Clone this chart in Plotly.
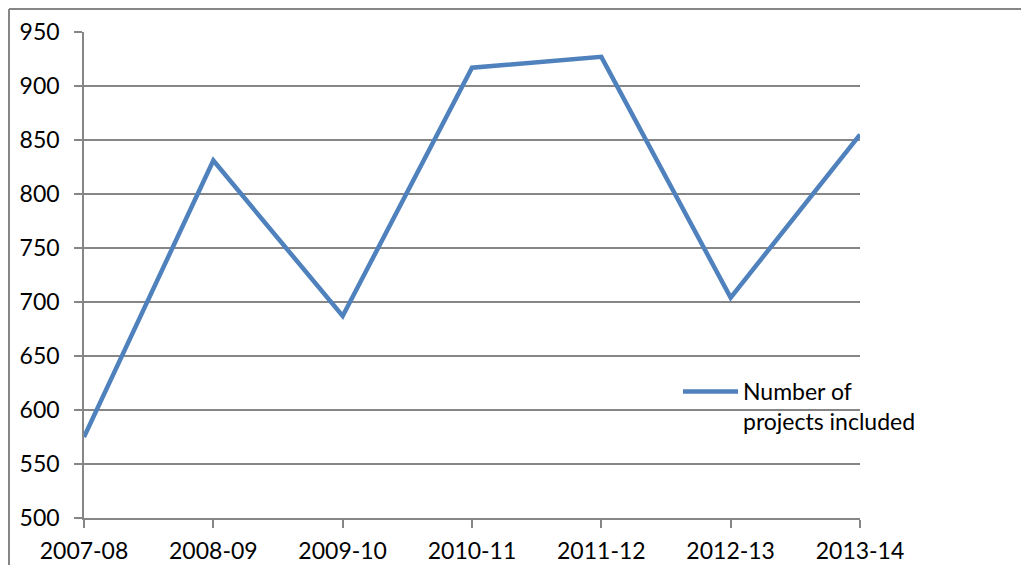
import plotly.graph_objects as go

years = ["2007-08", "2008-09", "2009-10", "2010-11", "2011-12", "2012-13", "2013-14"]
projects = [575, 831, 687, 917, 927, 704, 855]
series_name = "Number of<br>projects included"
y_ticks = [500, 550, 600, 650, 700, 750, 800, 850, 900, 950]

W, H = 1029, 565
# page body has an 8px margin, so figure coords = screen coords - 8
L, R, T, B = 76, 852, 24, 510

fig = go.Figure()
fig.add_trace(go.Scatter(
    x=years, y=projects, mode="lines", name=series_name,
    line=dict(color="#4F81BD", width=4.5),
    showlegend=True,
))

font = dict(family="Lato, 'Open Sans', sans-serif", size=23, color="#000000")
axcol = "#868686"

def px2x(px):
    return (px - L) / (R - L)

def px2y(py):
    return (B - py) / (B - T)

fig.update_layout(
    width=W, height=H,
    margin=dict(l=L, r=W - R, t=T, b=H - B, pad=0, autoexpand=False),
    paper_bgcolor="white", plot_bgcolor="white",
    font=font,
    showlegend=True,
    legend=dict(x=px2x(670), y=px2y(362), xanchor="left", yanchor="top",
                bgcolor="rgba(0,0,0,0)", font=font, itemwidth=55,
                valign="top", tracegroupgap=0),
    xaxis=dict(type="category", range=[0, 6], showgrid=False,
               showline=True, linecolor=axcol, linewidth=1.5,
               ticks="outside", ticklen=8, tickcolor=axcol, tickwidth=1.5,
               tickfont=font, zeroline=False, fixedrange=True,
               automargin=False, ticklabelstandoff=4),
    yaxis=dict(range=[500, 950], tickvals=y_ticks, showgrid=True,
               gridcolor=axcol, gridwidth=1.5,
               showline=True, linecolor=axcol, linewidth=1.5,
               ticks="outside", ticklen=8, tickcolor=axcol, tickwidth=1.5,
               tickfont=font, zeroline=False, ticklabelstandoff=10,
               fixedrange=True, automargin=False),
    shapes=[
        dict(type="line", xref="paper", yref="paper",
             x0=px2x(1), x1=px2x(1), y0=px2y(H + 5), y1=px2y(1),
             line=dict(color=axcol, width=2)),
        dict(type="line", xref="paper", yref="paper",
             x0=px2x(1), x1=px2x(W + 5), y0=px2y(1), y1=px2y(1),
             line=dict(color=axcol, width=2)),
    ],
)

fig.write_html("out.html")
